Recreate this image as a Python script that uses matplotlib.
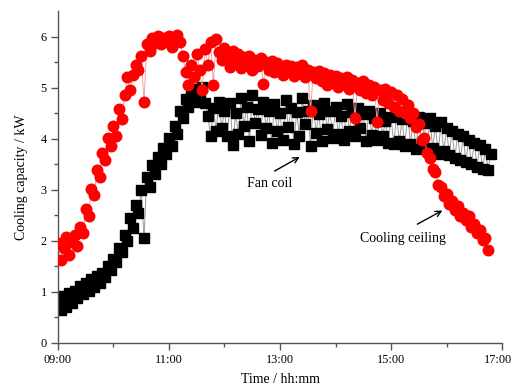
import matplotlib
matplotlib.use("Agg")
import matplotlib.pyplot as plt
import matplotlib.transforms as mtransforms
import numpy as np

plt.rcParams['font.family'] = ['Liberation Serif', 'DejaVu Serif']

# sampling: every 3 minutes starting 09:00 (hours after 09:00)
start_hour = 9
step_h = 0.05

cooling_ceiling = [
    1.95, 1.62, 1.85, 2.08, 1.72, 1.98, 2.12, 1.90, 2.28, 2.15,
    2.62, 2.48, 3.02, 2.90, 3.38, 3.25, 3.72, 3.58, 4.02, 3.85,
    4.25, 4.05, 4.58, 4.38, 4.85, 5.20, 4.95, 5.25, 5.45, 5.35,
    5.62, 4.72, 5.85, 5.72, 5.98, 5.88, 6.02, 5.85, 5.98, 5.92,
    6.02, 5.80, 5.95, 6.03, 5.90, 5.62, 5.30, 5.05, 5.45, 5.20,
    5.65, 5.35, 4.95, 5.75, 5.45, 5.90, 5.05, 5.95, 5.70, 5.55,
    5.78, 5.62, 5.40, 5.72, 5.50, 5.65, 5.38, 5.60, 5.45, 5.62,
    5.35, 5.55, 5.42, 5.58, 5.08, 5.50, 5.35, 5.52, 5.30, 5.48,
    5.38, 5.25, 5.45, 5.32, 5.42, 5.22, 5.40, 5.28, 5.45, 5.20,
    5.35, 4.55, 5.30, 5.18, 5.32, 5.12, 5.28, 5.05, 5.25, 5.10,
    5.22, 5.02, 5.18, 5.08, 5.20, 4.98, 5.15, 4.40, 5.10, 4.95,
    5.12, 4.90, 5.05, 4.85, 5.02, 4.32, 4.95, 4.75, 4.98, 4.70,
    4.92, 4.62, 4.85, 4.55, 4.78, 4.50, 4.65, 4.40, 4.50, 4.22,
    4.28, 3.98, 4.02, 3.72, 3.62, 3.40, 3.35, 3.10, 3.05, 2.88,
    2.92, 2.72, 2.78, 2.60, 2.68, 2.48, 2.55, 2.40, 2.48, 2.28,
    2.32, 2.15, 2.22, 2.02, 2.05, 1.82,
]

fan_coil = [
    0.85, 0.65, 0.92, 0.70, 0.98, 0.78, 1.02, 0.88, 1.12, 0.95,
    1.18, 1.02, 1.25, 1.10, 1.32, 1.18, 1.38, 1.30, 1.50, 1.42,
    1.65, 1.58, 1.85, 1.78, 2.12, 2.00, 2.45, 2.25, 2.70, 2.55,
    3.00, 2.05, 3.25, 3.05, 3.48, 3.30, 3.65, 3.50, 3.82, 3.70,
    4.02, 3.85, 4.25, 4.10, 4.55, 4.40, 4.78, 4.62, 4.85, 4.72,
    4.98, 4.88, 5.02, 4.70, 4.45, 4.05, 4.60, 4.15, 4.72, 4.20,
    4.55, 4.05, 4.70, 3.88, 4.50, 4.10, 4.80, 4.25, 4.62, 3.95,
    4.85, 4.30, 4.58, 4.08, 4.72, 4.20, 4.55, 3.92, 4.68, 4.15,
    4.50, 3.98, 4.75, 4.22, 4.60, 3.90, 4.52, 4.05, 4.80, 4.28,
    4.55, 3.85, 4.65, 4.12, 4.48, 3.95, 4.70, 4.18, 4.55, 4.02,
    4.62, 4.10, 4.45, 3.98, 4.68, 4.15, 4.52, 4.05, 4.60, 4.20,
    4.48, 3.95, 4.55, 4.08, 4.40, 3.98, 4.50, 4.05, 4.35, 3.92,
    4.42, 3.90, 4.45, 3.95, 4.38, 3.85, 4.50, 3.90, 4.35, 3.80,
    4.42, 3.88, 4.30, 3.78, 4.40, 3.82, 4.25, 3.70, 4.32, 3.75,
    4.20, 3.68, 4.15, 3.62, 4.10, 3.58, 4.05, 3.55, 3.98, 3.50,
    3.92, 3.45, 3.88, 3.40, 3.80, 3.38, 3.70,
]

x_ticks = [0, 2, 4, 6, 8]
x_tick_labels = ["09:00", "11:00", "13:00", "15:00", "17:00"]

t_cc = np.arange(len(cooling_ceiling)) * step_h
t_fc = np.arange(len(fan_coil)) * step_h

fig = plt.figure(figsize=(5.14, 3.89), dpi=100)
ax = fig.add_axes([0.1128, 0.1183, 0.8639, 0.8534])

ax.plot(t_fc, fan_coil, '-', color='#9a9a9a', lw=0.7, zorder=1)
ax.plot(t_fc, fan_coil, 's', color='black', ms=7.0, mec='black', zorder=2)
ax.plot(t_cc, cooling_ceiling, '-', color='#f4a0a0', lw=0.7, zorder=3)
ax.plot(t_cc, cooling_ceiling, 'o', color='#ff0000', ms=7.6, mec='#ff0000', zorder=4)

ax.set_xlim(0, 8)
ax.set_ylim(0, 6.5)
ax.set_xticks(x_ticks)
ax.set_xticklabels(x_tick_labels)
ax.set_xticks([1, 3, 5, 7], minor=True)
ax.set_yticks(range(0, 7))
ax.set_yticks(np.arange(0.5, 6.5, 1.0), minor=True)

for s in ['top', 'right']:
    ax.spines[s].set_visible(False)
for s in ['left', 'bottom']:
    ax.spines[s].set_color('#555555')
    ax.spines[s].set_linewidth(1.0)

ax.tick_params(axis='both', which='major', direction='out', length=5,
               width=1.0, color='#555555', labelsize=8.8, pad=3)
ax.tick_params(axis='both', which='minor', direction='out', length=3,
               width=1.0, color='#555555')

# keep the last tick label inside the figure
last = ax.get_xticklabels()[-1]
last.set_transform(last.get_transform() +
                   mtransforms.ScaledTranslation(-4 / 100, 0, fig.dpi_scale_trans))

ax.set_xlabel("Time / hh:mm", fontsize=10, labelpad=5)
ax.set_ylabel("Cooling capacity / kW", fontsize=10, labelpad=9)

ax.annotate("", xy=(4.40, 3.67), xytext=(3.86, 3.34),
            arrowprops=dict(arrowstyle='->', color='black', lw=1.0))
ax.text(3.41, 3.12, "Fan coil", fontsize=10, ha='left', va='center')
ax.annotate("", xy=(6.97, 2.62), xytext=(6.43, 2.30),
            arrowprops=dict(arrowstyle='->', color='black', lw=1.0))
ax.text(5.44, 2.05, "Cooling ceiling", fontsize=10, ha='left', va='center')

fig.savefig("out.png", dpi=100)
